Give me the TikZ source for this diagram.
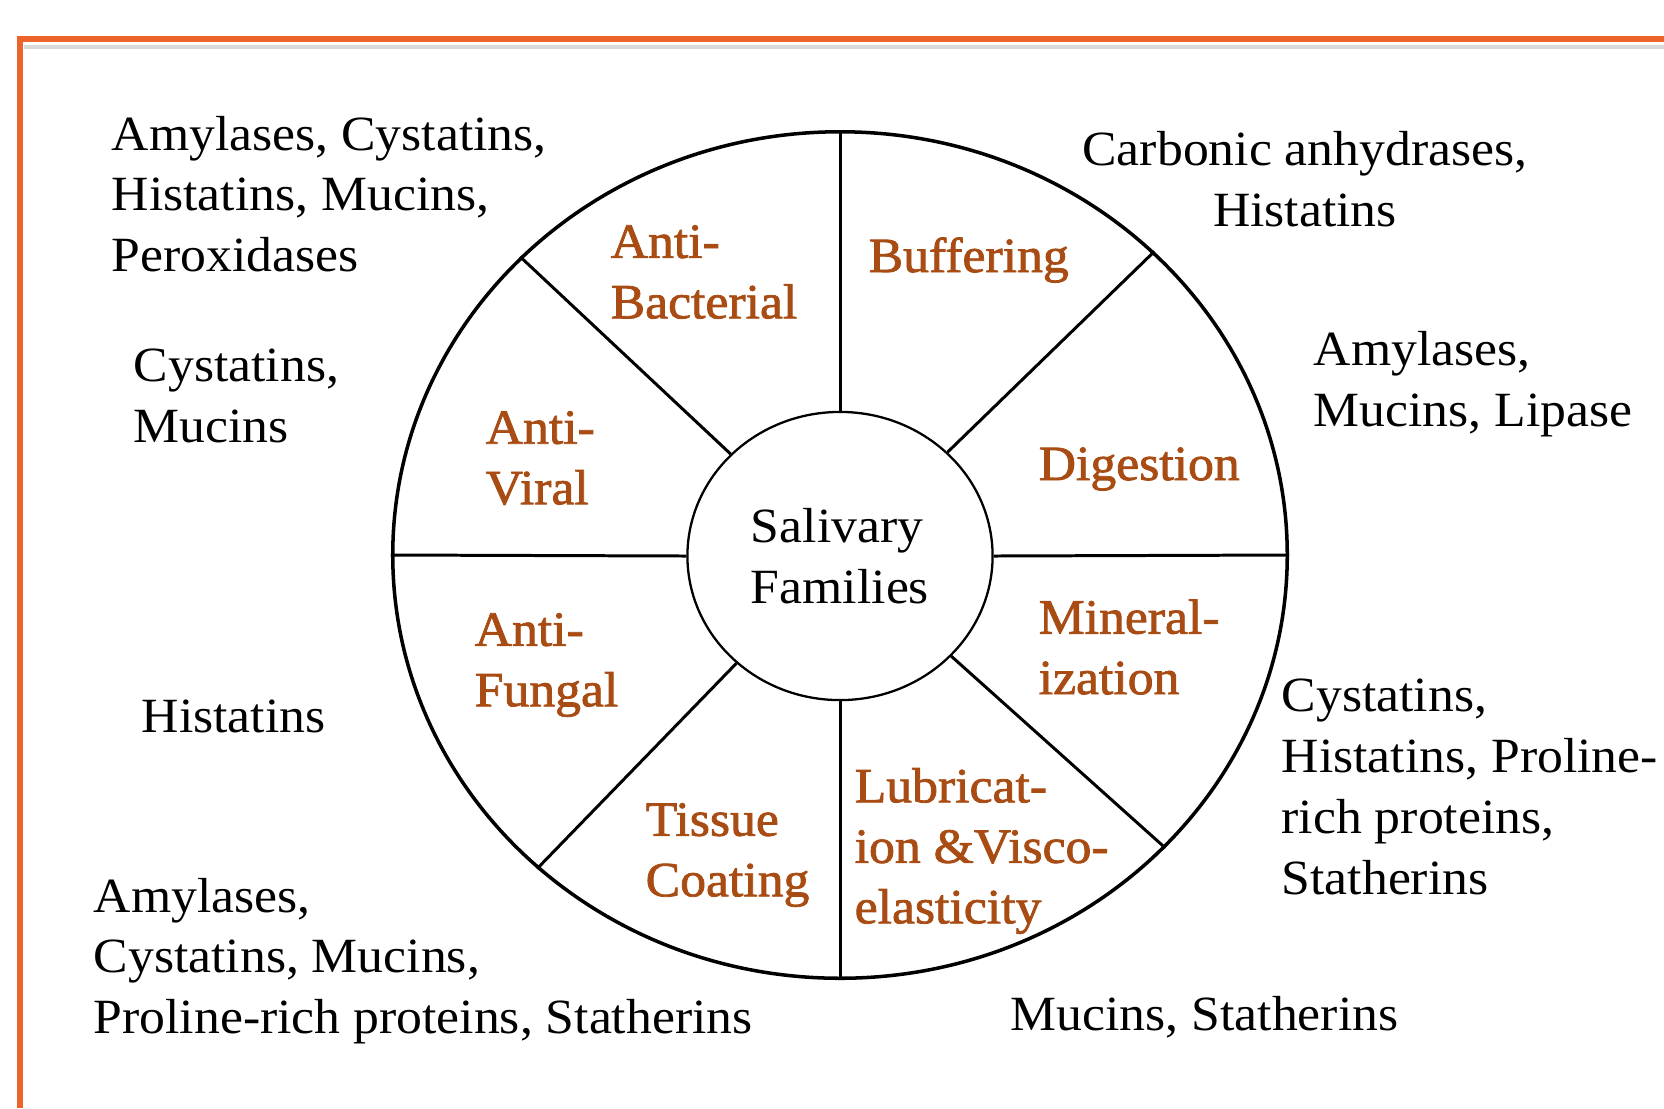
\documentclass[tikz,border=0pt]{standalone}
\usepackage{fontspec}
\setmainfont[FakeStretch=1.05]{Liberation Serif}
\newfontfamily\rolefont[FakeStretch=1.05,FakeBold=1.6]{Liberation Serif}
\usetikzlibrary{shapes.geometric}
\definecolor{frameorange}{RGB}{236,100,44}
\definecolor{rolebrown}{RGB}{168,76,20}
\begin{document}
\begin{tikzpicture}[x=0.01cm,y=-0.01cm,
    protein/.style={anchor=west,align=left,inner sep=0pt,font=\fontsize{14pt}{17.3pt}\selectfont},
    role/.style={anchor=west,align=left,inner sep=0pt,text=rolebrown,font=\fontsize{14pt}{17.2pt}\rolefont},
    rim/.style={ellipse,draw,line width=1pt,minimum width=8.94cm,minimum height=8.46cm,inner sep=0pt},
    hub/.style={ellipse,draw,line width=0.65pt,minimum width=3.05cm,minimum height=2.88cm,inner sep=0pt,align=left,font=\fontsize{14pt}{17.3pt}\selectfont}]
    \useasboundingbox (0,0) rectangle (1664,1108);
    \draw[gray!30,line width=1.2pt] (24,47) -- (1664,47);
    \draw[frameorange,line width=1.7pt] (1664,39) -- (20,39) -- (20,1108);
    \node[rim] (rim) at (840,555) {};
    \node[hub] (hub) at (840,556) {Salivary\\Families};
    \foreach \a in {0,44,90,137,180,226,270,318}
        \draw[line width=0.85pt] (hub.\a) -- (rim.\a);
    \node[role] (antibacterial) at (610,272) {Anti-\\Bacterial};
    \node[role] (buffering) at (868,260) {Buffering};
    \node[role] (antiviral) at (485,458) {Anti-\\Viral};
    \node[role] (digestion) at (1038,469) {Digestion};
    \node[role] (antifungal) at (474,665) {Anti-\\Fungal};
    \node[role] (mineralization) at (1038,647) {Mineral-\\ization};
    \node[role] (tissuecoating) at (645,855) {Tissue\\Coating};
    \node[role] (lubrication) at (854,851) {Lubricat-\\ion \&Visco-\\elasticity};
    \node[protein] (bacterialset) at (111,194) {Amylases, Cystatins,\\Histatins, Mucins,\\Peroxidases};
    \node[protein] (viralset) at (133,396) {Cystatins,\\Mucins};
    \node[protein] (fungalset) at (141,716) {Histatins};
    \node[protein] (tissueset) at (93,961) {Amylases,\\Cystatins, Mucins,\\Proline-rich proteins, Statherins};
    \node[protein,anchor=center,align=center] (bufferset) at (1305,179) {Carbonic anhydrases,\\Histatins};
    \node[protein] (digestset) at (1313,384) {Amylases,\\Mucins, Lipase};
    \node[protein] (mineralset) at (1281,787) {Cystatins,\\Histatins, Proline-\\rich proteins,\\Statherins};
    \node[protein] (lubricset) at (1010,1017) {Mucins, Statherins};
\end{tikzpicture}
\end{document}
